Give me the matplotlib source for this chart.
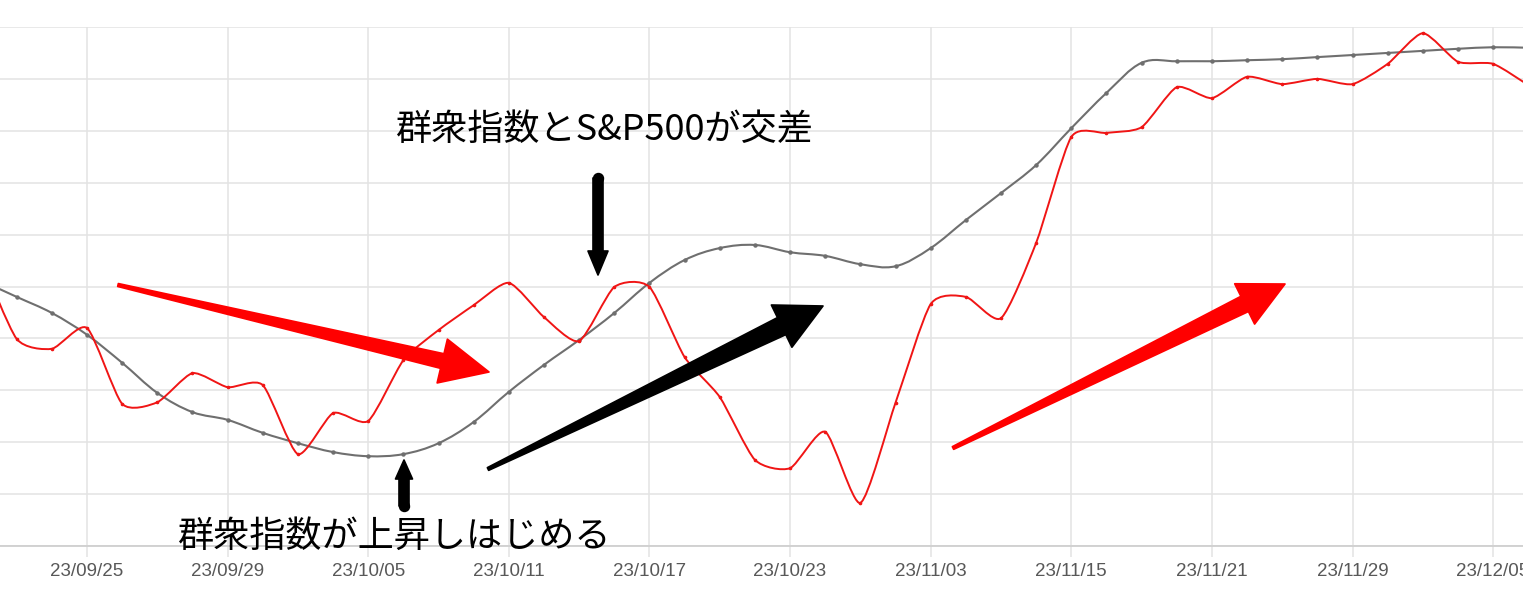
import numpy as np
import matplotlib
matplotlib.use('Agg')
from matplotlib import pyplot as plt
from matplotlib.path import Path
from matplotlib.patches import PathPatch, Polygon

plt.rcParams['font.family'] = ['Noto Sans CJK JP', 'DejaVu Sans']

# 群衆指数 (gray) and S&P500 (red), one value per trading day, grid units
gunshu = [5.11, 4.80, 4.49, 4.07, 3.53, 2.95, 2.58, 2.43, 2.18, 1.98,
          1.81, 1.73, 1.77, 1.98, 2.39, 2.97, 3.49, 3.97, 4.49, 5.07,
          5.51, 5.74, 5.80, 5.66, 5.59, 5.43, 5.39, 5.74, 6.28, 6.80,
          7.34, 8.05, 8.73, 9.31, 9.34, 9.34, 9.36, 9.38, 9.42, 9.46,
          9.50, 9.54, 9.58, 9.61, 9.60]
sp500 = [5.51, 3.99, 3.80, 4.20, 2.74, 2.77, 3.33, 3.06, 3.10, 1.77,
         2.56, 2.41, 3.58, 4.16, 4.64, 5.07, 4.41, 3.95, 4.99, 4.99,
         3.64, 2.87, 1.66, 1.50, 2.20, 0.83, 2.76, 4.66, 4.80, 4.39,
         5.84, 7.88, 7.96, 8.07, 8.84, 8.63, 9.04, 8.90, 9.00, 8.90,
         9.29, 9.88, 9.33, 9.29, 8.88]
tick_labels = ['23/09/25', '23/09/29', '23/10/05', '23/10/11', '23/10/17',
               '23/10/23', '23/11/03', '23/11/15', '23/11/21', '23/11/29',
               '23/12/05']
first_tick = 3
tick_step = 4


def smooth_path(x, y, t=0.35):
    # catmull-rom style bezier through the points
    x = np.asarray(x, float)
    y = np.asarray(y, float)
    verts = [(x[0], y[0])]
    codes = [Path.MOVETO]
    n = len(x)
    for i in range(n - 1):
        xa, ya = (x[i - 1], y[i - 1]) if i > 0 else (x[i], y[i])
        xd, yd = (x[i + 2], y[i + 2]) if i + 2 < n else (x[i + 1], y[i + 1])
        c1 = (x[i] + (x[i + 1] - xa) * t / 2, y[i] + (y[i + 1] - ya) * t / 2)
        c2 = (x[i + 1] - (xd - x[i]) * t / 2, y[i + 1] - (yd - y[i]) * t / 2)
        verts += [c1, c2, (x[i + 1], y[i + 1])]
        codes += [Path.CURVE4] * 3
    return Path(verts, codes)


def fat_arrow(ax, tail, tip, tail_w, shaft_w, head_w, head_len, color, round_tail=False):
    p0 = np.array(tail, float)
    p1 = np.array(tip, float)
    u = (p1 - p0) / np.linalg.norm(p1 - p0)
    n = np.array([-u[1], u[0]])
    base = p1 - u * head_len
    pts = [p0 + n * tail_w / 2, base + n * shaft_w / 2, base + n * head_w / 2, p1,
           base - n * head_w / 2, base - n * shaft_w / 2, p0 - n * tail_w / 2]
    ax.add_patch(Polygon(pts, closed=True, facecolor=color, edgecolor=color,
                         lw=1.2, joinstyle='round'))
    if round_tail:
        ax.scatter([p0[0]], [p0[1]], s=(shaft_w * 0.72) ** 2, color=color, zorder=5)


fig = plt.figure(figsize=(15.23, 6.09), dpi=100)
ax = fig.add_axes([0, 63 / 609, 1, 519 / 609])

idx = np.arange(len(gunshu))
ax.add_patch(PathPatch(smooth_path(idx, gunshu, 0.35), fill=False, edgecolor='#6f6f6f', lw=1.5, zorder=3))
ax.plot(idx, gunshu, ls='none', marker='o', ms=2.2, color='#6f6f6f', zorder=3)
ax.add_patch(PathPatch(smooth_path(idx, sp500, 0.22), fill=False, edgecolor='#f01515', lw=1.4, zorder=4))
ax.plot(idx, sp500, ls='none', marker='o', ms=1.6, color='#f01515', zorder=4)

ax.set_xlim(0.525, 43.85)
ax.set_ylim(0, 10)
ax.set_xticks(np.arange(first_tick, first_tick + tick_step * len(tick_labels), tick_step))
ax.set_xticklabels(tick_labels, fontsize=13.5, color='#585858', family='Liberation Sans')
ax.set_yticks(np.arange(0, 11))
ax.tick_params(axis='x', length=8, width=1.1, color='#e3e3e3', pad=4)
ax.tick_params(axis='y', left=False, labelleft=False)
ax.grid(True, color='#e3e3e3', lw=1.1)
ax.set_axisbelow(True)
for s in ['left', 'right', 'top']:
    ax.spines[s].set_visible(False)
ax.spines['bottom'].set_color('#cfcfcf')
ax.spines['bottom'].set_linewidth(1.3)

# annotation layer in pixel coordinates
ov = fig.add_axes([0, 0, 1, 1])
ov.set_xlim(0, 1523)
ov.set_ylim(609, 0)
ov.axis('off')
ov.patch.set_alpha(0)

fat_arrow(ov, (118, 285), (489, 372), 3, 15, 45, 48, '#ff0000')
fat_arrow(ov, (488, 469), (823, 306), 3, 19, 47, 46, '#000000')
fat_arrow(ov, (953, 448), (1285, 284), 3, 17, 45, 45, '#ff0000')
fat_arrow(ov, (598, 178), (598, 275), 10, 10, 20, 24, '#000000', round_tail=True)
fat_arrow(ov, (404, 506), (404, 460), 10, 10, 17, 19, '#000000', round_tail=True)

ov.text(395, 130, '群衆指数とS&P500が交差', fontsize=26, va='center', ha='left', color='#000000')
ov.text(177, 537, '群衆指数が上昇しはじめる', fontsize=26, va='center', ha='left', color='#000000')

plt.savefig('out.png', dpi=100)
